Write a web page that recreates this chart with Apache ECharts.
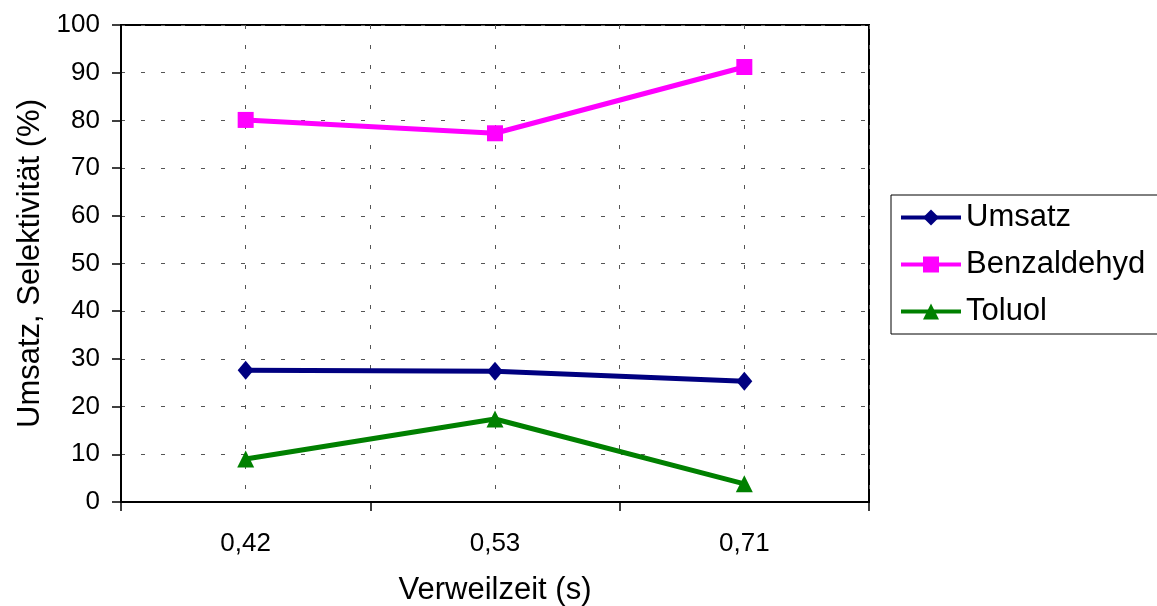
<!DOCTYPE html>
<html>
<head>
<meta charset="utf-8">
<script src="https://cdn.jsdelivr.net/npm/echarts@6/dist/echarts.min.js"></script>
<style>
  html, body { margin: 0; padding: 0; background: #fff; }
  #chart { width: 1157px; height: 606px; }
</style>
</head>
<body>
<div id="chart"></div>
<script>
// Residence times (s) and resulting conversion / selectivities (%)
const categories = ['0,42', '0,53', '0,71'];
const umsatz = [27.6, 27.4, 25.3];
const benzaldehyd = [80.1, 77.3, 91.2];
const toluol = [9.0, 17.4, 3.8];
const seriesNames = ['Umsatz', 'Benzaldehyd', 'Toluol'];

const FONT = '"Liberation Sans", Arial, sans-serif';
const dashed = { color: '#555', width: 1, type: [4, 16] };

const chart = echarts.init(document.getElementById('chart'), null, { renderer: 'canvas' });

function lineSeries(name, data, color, symbol, size) {
  return {
    name: name,
    type: 'line',
    data: data,
    xAxisIndex: 0,
    symbol: symbol,
    symbolSize: size,
    lineStyle: { color: color, width: 5 },
    itemStyle: { color: color },
    animation: false
  };
}

chart.setOption({
  backgroundColor: '#fff',
  textStyle: { fontFamily: FONT },
  grid: {
    left: 121, right: 288, top: 25, bottom: 104,
    containLabel: false,
    outerBoundsMode: 'none',
    show: true, borderColor: '#000', borderWidth: 2, backgroundColor: '#fff'
  },
  legend: {
    orient: 'vertical',
    left: 891, top: 195,
    padding: [7, 13, 7, 8],
    itemWidth: 60, itemHeight: 20, itemGap: 16,
    borderColor: '#000', borderWidth: 1,
    lineStyle: { width: 4 },
    data: seriesNames,
    textStyle: { fontSize: 31, lineHeight: 31, color: '#000', fontFamily: FONT }
  },
  xAxis: [
    {
      type: 'category',
      data: categories,
      boundaryGap: true,
      name: 'Verweilzeit (s)',
      nameLocation: 'middle',
      nameGap: 73,
      nameTextStyle: { fontSize: 31, color: '#000', fontFamily: FONT },
      axisLine: { lineStyle: { color: '#000', width: 2 } },
      axisTick: { show: true, length: 9, lineStyle: { color: '#000', width: 1.5 } },
      axisLabel: { fontSize: 26, color: '#000', margin: 29, fontFamily: FONT },
      splitLine: { show: false }
    },
    {
      // half-category guide lines (boundaries and category centres)
      type: 'value',
      min: 0, max: 6, interval: 1,
      position: 'bottom',
      axisLine: { show: false },
      axisTick: { show: false },
      axisLabel: { show: false },
      splitLine: { show: true, lineStyle: dashed }
    }
  ],
  yAxis: {
    type: 'value',
    min: 0, max: 100, interval: 10,
    name: 'Umsatz, Selektivität (%)',
    nameLocation: 'middle',
    nameGap: 75,
    nameTextStyle: { fontSize: 31, color: '#000', fontFamily: FONT },
    axisLine: { show: true, lineStyle: { color: '#000', width: 2 } },
    axisTick: { show: true, length: 9, lineStyle: { color: '#000', width: 1.5 } },
    axisLabel: { fontSize: 26, color: '#000', margin: 21, fontFamily: FONT },
    splitLine: { show: true, lineStyle: dashed }
  },
  series: [
    lineSeries('Umsatz', umsatz, '#000080', 'diamond', [16, 19]),
    lineSeries('Benzaldehyd', benzaldehyd, '#FF00FF', 'rect', 16),
    lineSeries('Toluol', toluol, '#008000', 'triangle', 17)
  ]
});
</script>
</body>
</html>
